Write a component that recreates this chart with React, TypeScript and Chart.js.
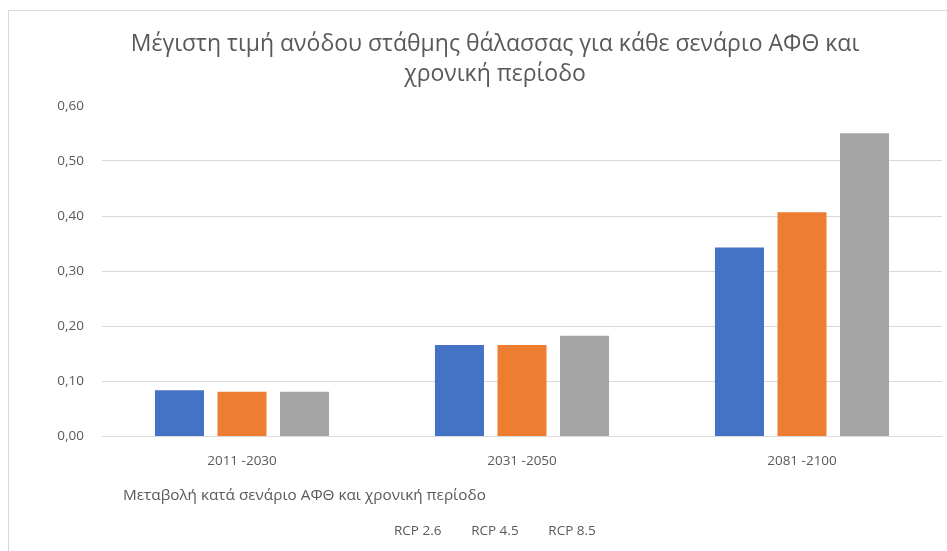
import React, { useEffect, useRef } from "react";
import { Chart, registerables } from "chart.js";

Chart.register(...registerables);

const periods = ["2011 -2030", "2031 -2050", "2081 -2100"];
const seriesNames = ["RCP 2.6", "RCP 4.5", "RCP 8.5"];
const rcp26 = [0.084, 0.166, 0.343];
const rcp45 = [0.081, 0.166, 0.407];
const rcp85 = [0.081, 0.183, 0.55];
const seriesColors = ["#4472C4", "#ED7D31", "#A5A5A5"];
const yTicks = [0, 0.1, 0.2, 0.3, 0.4, 0.5, 0.6];
const titleLines = [
  "Μέγιστη τιμή ανόδου στάθμης θάλασσας για κάθε σενάριο ΑΦΘ και",
  "χρονική περίοδο",
];
const xTitle = "Μεταβολή κατά σενάριο ΑΦΘ και χρονική περίοδο";

const FONT = "'Open Sans', 'Noto Sans', sans-serif";
const TEXT = "#595959";
const GRID = "#D9D9D9";

const xTitlePlugin = {
  id: "xTitleStart",
  afterLayout(chart: any) {
    // legend has no colour swatches: shift it so its texts are centred
    const lg = chart.legend;
    if (lg) {
      lg.left -= 10;
      lg.right -= 10;
    }
  },
  afterDraw(chart: any) {
    const ctx = chart.ctx;
    const area = chart.chartArea;
    ctx.save();
    ctx.font = `15.3px ${FONT}`;
    ctx.fillStyle = TEXT;
    ctx.textAlign = "left";
    ctx.textBaseline = "middle";
    ctx.fillText(xTitle, area.left + 21, area.bottom + 59);
    ctx.restore();
  },
};

export default function App() {
  const ref = useRef<HTMLCanvasElement>(null);
  useEffect(() => {
    if (!ref.current) return;
    const values = [rcp26, rcp45, rcp85];
    const chart = new Chart(ref.current, {
      type: "bar",
      data: {
        labels: periods,
        datasets: seriesNames.map((name, i) => ({
          label: name,
          data: values[i],
          backgroundColor: seriesColors[i],
          borderWidth: 0,
          categoryPercentage: 0.67,
          barPercentage: 0.784,
        })),
      },
      options: {
        responsive: false,
        animation: false,
        layout: { padding: { left: 48, right: 5, top: 0, bottom: 3 } },
        plugins: {
          title: {
            display: true,
            text: titleLines,
            color: TEXT,
            font: { family: FONT, size: 23, weight: "normal", lineHeight: 1.3 },
            padding: { top: 30, bottom: 16 },
          },
          legend: {
            position: "bottom",
            labels: {
              color: TEXT,
              font: { family: FONT, size: 13.5 },
              boxWidth: 13,
              boxHeight: 11,
              padding: 10,
              generateLabels: (c: any) =>
                c.data.datasets.map((d: any, i: number) => ({
                  text: d.label,
                  fillStyle: "rgba(0,0,0,0)",
                  strokeStyle: "rgba(0,0,0,0)",
                  lineWidth: 0,
                  hidden: false,
                  datasetIndex: i,
                  fontColor: TEXT,
                })),
            },
          },
          tooltip: { enabled: false },
        },
        scales: {
          x: {
            grid: { display: false, drawTicks: false },
            border: { display: false },
            ticks: { color: TEXT, font: { family: FONT, size: 13.5 }, padding: 17 },
            afterFit: (s: any) => {
              s.height = 78;
            },
          },
          y: {
            min: 0,
            max: 0.6,
            afterBuildTicks: (s: any) => {
              s.ticks = yTicks.map((v) => ({ value: v }));
            },
            grid: {
              drawTicks: false,
              color: (c: any) => (c.tick && c.tick.value >= 0.6 ? "rgba(0,0,0,0)" : GRID),
              lineWidth: 1,
            },
            border: { display: false },
            ticks: {
              color: TEXT,
              font: { family: FONT, size: 13.5 },
              padding: 18,
              callback: (v: any) => Number(v).toFixed(2).replace(".", ","),
            },
            afterFit: (s: any) => {
              s.width = 54;
            },
          },
        },
      },
      plugins: [xTitlePlugin],
    } as any);
    return () => chart.destroy();
  }, []);

  return (
    <div
      style={{
        position: "absolute",
        left: 0,
        top: 0,
        width: 947,
        height: 551,
        overflow: "hidden",
        background: "#fff",
      }}
    >
      <div
        style={{
          position: "absolute",
          left: 8,
          top: 10,
          width: 1000,
          height: 600,
          borderTop: `1px solid ${GRID}`,
          borderLeft: `1px solid ${GRID}`,
        }}
      />
      <canvas
        ref={ref}
        width={947}
        height={551}
        style={{ position: "absolute", left: 0, top: 0, width: 947, height: 551 }}
      />
    </div>
  );
}
